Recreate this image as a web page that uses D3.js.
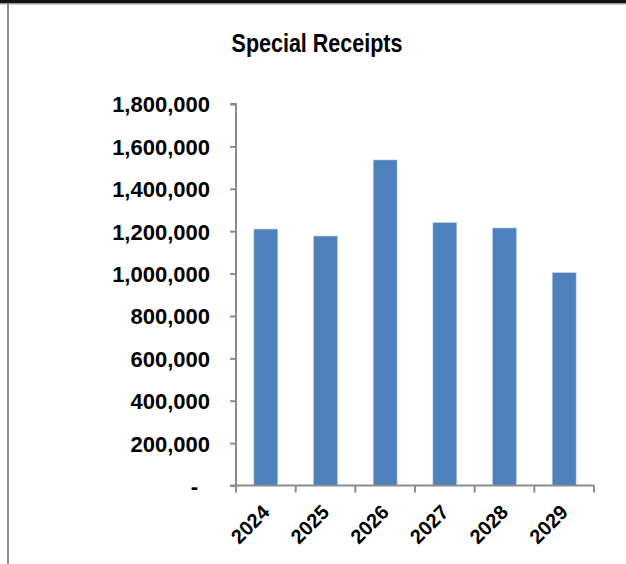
<!DOCTYPE html>
<html>
<head>
<meta charset="utf-8">
<script src="https://cdn.jsdelivr.net/npm/d3@7"></script>
<style>
  html, body { margin: 0; padding: 0; background: #fff; }
  svg { display: block; }
  text { font-family: "Liberation Sans", Arial, sans-serif; font-weight: bold; fill: #000; }
</style>
</head>
<body>
<svg id="chart" width="626" height="564"></svg>
<script>
// Special receipts by fiscal year
const years = ["2024", "2025", "2026", "2027", "2028", "2029"];
const receipts = [1210000, 1177000, 1536000, 1240000, 1215000, 1004000];
const yTicks = [0, 200000, 400000, 600000, 800000, 1000000, 1200000, 1400000, 1600000, 1800000];
const yTickLabels = ["-", "200,000", "400,000", "600,000", "800,000", "1,000,000", "1,200,000", "1,400,000", "1,600,000", "1,800,000"];
const chartTitle = "Special Receipts";

const svg = d3.select("#chart");
const W = 626, H = 564;
const plot = { left: 236, right: 594, top: 104, bottom: 485.5 };
const axisColor = "#8c8c8c";

// frame edges
svg.append("rect").attr("x", 0).attr("y", 0).attr("width", W).attr("height", 3).attr("fill", "#111");
svg.append("rect").attr("x", 0).attr("y", 3).attr("width", W).attr("height", 1.5).attr("fill", "#9a9a9a");
svg.append("rect").attr("x", 7).attr("y", 3).attr("width", 2).attr("height", H - 3).attr("fill", "#8f8f8f");

const x = d3.scaleBand().domain(years).range([plot.left, plot.right]).paddingInner(0.6).paddingOuter(0.3);
const y = d3.scaleLinear().domain([0, 1800000]).range([plot.bottom, plot.top]);

// title, set a little condensed
const title = svg.append("text")
  .attr("x", 317).attr("y", 52)
  .attr("text-anchor", "middle")
  .style("font-size", "25px")
  .text(chartTitle);
const tw = title.node().getComputedTextLength();
title.attr("textLength", tw * 0.86).attr("lengthAdjust", "spacingAndGlyphs");

// bars
svg.append("g").selectAll("rect")
  .data(years.map((yr, i) => ({ yr, v: receipts[i] })))
  .join("rect")
  .attr("x", d => x(d.yr))
  .attr("y", d => y(d.v))
  .attr("width", x.bandwidth())
  .attr("height", d => y(0) - y(d.v))
  .attr("fill", "#4f81bd")
  .attr("stroke", "#b9cde5")
  .attr("stroke-width", 0.6);

// y axis
const yAxis = d3.axisLeft(y)
  .tickValues(yTicks)
  .tickSize(6)
  .tickPadding(20)
  .tickFormat((d, i) => yTickLabels[i]);
const gy = svg.append("g").attr("transform", `translate(${plot.left},0)`).call(yAxis);
gy.select(".domain").attr("stroke", axisColor).attr("stroke-width", 2)
  .attr("d", `M-6,${plot.top}H0V${plot.bottom}`);
gy.selectAll(".tick line").attr("stroke", axisColor).attr("stroke-width", 2);
gy.selectAll(".tick text")
  .style("font-size", "22px")
  .attr("dy", "0.36em")
  .attr("dx", (d) => d === 0 ? -12 : 0);

// x axis: baseline and ticks at category boundaries
const gx = svg.append("g");
gx.append("line")
  .attr("x1", plot.left - 6).attr("x2", plot.right)
  .attr("y1", plot.bottom).attr("y2", plot.bottom)
  .attr("stroke", axisColor).attr("stroke-width", 2);
const bounds = years.map(yr => x(yr) - x.step() * x.paddingOuter()).concat([plot.right]);
gx.selectAll("line.tk").data(bounds).join("line").attr("class", "tk")
  .attr("x1", d => d).attr("x2", d => d)
  .attr("y1", plot.bottom).attr("y2", plot.bottom + 7)
  .attr("stroke", axisColor).attr("stroke-width", 2);
gx.selectAll("text").data(years).join("text")
  .attr("transform", d => `translate(${x(d) + x.bandwidth() / 2},${plot.bottom + 23}) rotate(-45)`)
  .attr("text-anchor", "end")
  .attr("dy", "0.35em")
  .style("font-size", "20px")
  .text(d => d);
</script>
</body>
</html>
